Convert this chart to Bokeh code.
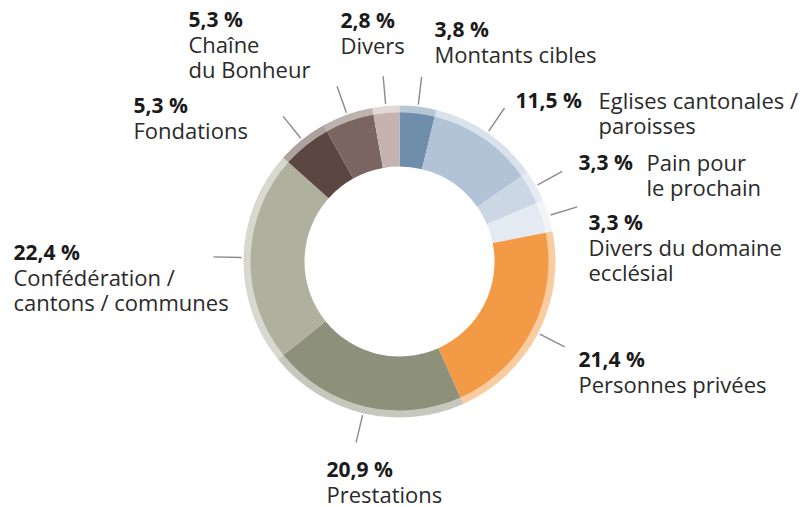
import math
from bokeh.plotting import figure
from bokeh.models import Range1d, ColumnDataSource
from bokeh.core.properties import value
from bokeh.embed import file_html
from bokeh.resources import INLINE

# ---- data ----
categories = ["Montants cibles", "Eglises cantonales / paroisses", "Pain pour le prochain",
              "Divers du domaine ecclésial", "Personnes privées", "Prestations",
              "Confédération / cantons / communes", "Fondations", "Chaîne du Bonheur", "Divers"]
shares = [3.8, 11.5, 3.3, 3.3, 21.4, 20.9, 22.4, 5.3, 5.3, 2.8]
pct_labels = ["3,8 %", "11,5 %", "3,3 %", "3,3 %", "21,4 %", "20,9 %", "22,4 %", "5,3 %", "5,3 %", "2,8 %"]
label_lines = [["Montants cibles"], ["Eglises cantonales /", "paroisses"], ["Pain pour", "le prochain"],
               ["Divers du domaine", "ecclésial"], ["Personnes privées"], ["Prestations"],
               ["Confédération /", "cantons / communes"], ["Fondations"], ["Chaîne", "du Bonheur"], ["Divers"]]

# ---- styles / layout ----
colors = ["#6e8eab", "#b3c3d7", "#ccd7e5", "#e4eaf2", "#f39a46", "#8d917b",
          "#afb19e", "#5b4641", "#7a6560", "#c4b3af"]
W, H = 805, 507
CX, CY = 399, H - 261
R_IN, R_MID, R_OUT = 95, 149, 156
FONT = "Open Sans"
FS_PCT = "21px"
FS_TXT = "22px"
LH = 25
SHIFT = 9  # renderer baseline correction (px)
# label layout: (x of pct, baseline y of first line (screen), mode, x of text if inline)
label_layout = [
    (434, 37, "stack", None),
    (515, 108, "inline", 598),
    (578, 170, "inline", 646),
    (588, 230, "stack", None),
    (578, 367, "stack", None),
    (326, 477, "stack", None),
    (13, 260, "stack", None),
    (133, 113, "stack", None),
    (188, 27, "stack", None),
    (340, 28, "stack", None),
]
leader_r = (158, 186)

p = figure(width=W, height=H, x_range=Range1d(0, W), y_range=Range1d(0, H),
           output_backend="svg", toolbar_location=None, min_border=0)
p.axis.visible = False
p.grid.visible = False
p.outline_line_color = None
p.background_fill_color = "white"

total = sum(shares)
starts, ends, mids = [], [], []
cum = 0.0
for s in shares:
    a0 = math.pi / 2 - 2 * math.pi * cum / total
    cum += s
    a1 = math.pi / 2 - 2 * math.pi * cum / total
    starts.append(a0)
    ends.append(a1)
    mids.append((a0 + a1) / 2)

src = ColumnDataSource(dict(x=[CX] * len(shares), y=[CY] * len(shares),
                            start=starts, end=ends, color=colors, cat=categories))
# outer light ring
p.annular_wedge(x="x", y="y", inner_radius=R_MID - 1, outer_radius=R_OUT,
                start_angle="start", end_angle="end", direction="clock",
                fill_color="color", fill_alpha=0.5, line_color=None, source=src)
# main ring
p.annular_wedge(x="x", y="y", inner_radius=R_IN, outer_radius=R_MID,
                start_angle="start", end_angle="end", direction="clock",
                fill_color="color", line_color=None, source=src)

# leader lines
xs, ys = [], []
for m in mids:
    xs.append([CX + leader_r[0] * math.cos(m), CX + leader_r[1] * math.cos(m)])
    ys.append([CY + leader_r[0] * math.sin(m), CY + leader_r[1] * math.sin(m)])
p.multi_line(xs=xs, ys=ys, line_color="#8a8a8a", line_width=1.4)

# labels
px, py, pt = [], [], []
tx, ty, tt = [], [], []
for pct, lines, (lx, ly, mode, tx0) in zip(pct_labels, label_lines, label_layout):
    ly = ly - SHIFT
    px.append(lx)
    py.append(H - ly)
    pt.append(pct)
    if mode == "stack":
        for i, ln in enumerate(lines):
            tx.append(lx)
            ty.append(H - (ly + LH * (i + 1)))
            tt.append(ln)
    else:
        for i, ln in enumerate(lines):
            tx.append(tx0)
            ty.append(H - (ly + LH * i))
            tt.append(ln)

p.text(x=px, y=py, text=pt, text_font=value(FONT), text_font_size=FS_PCT,
       text_font_style="bold", text_color="#1a1a1a", text_baseline="alphabetic",
       text_align="left")
p.text(x=tx, y=ty, text=tt, text_font=value(FONT), text_font_size=FS_TXT,
       text_color="#2a2a2a", text_baseline="alphabetic", text_align="left")

open("out.html", "w").write(file_html(p, INLINE))
